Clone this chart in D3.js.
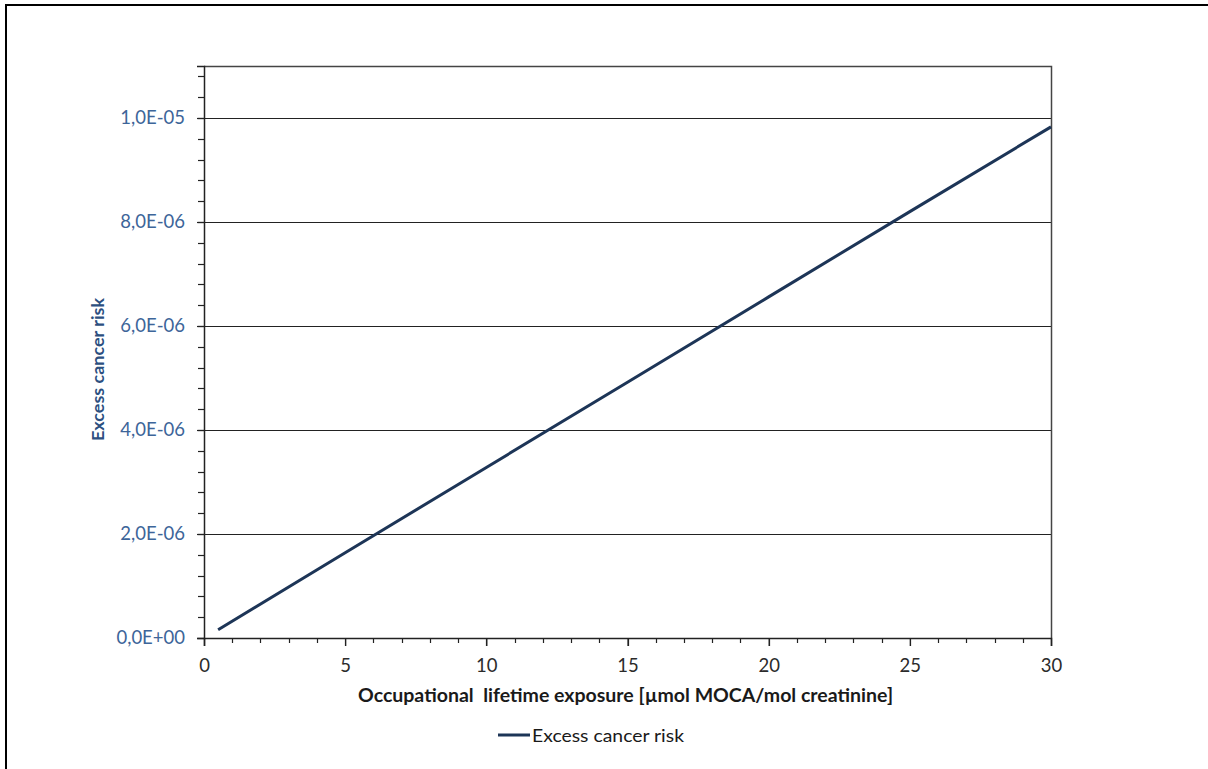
<!DOCTYPE html>
<html>
<head>
<meta charset="utf-8">
<script src="https://cdn.jsdelivr.net/npm/d3@7"></script>
<style>
  html, body { margin: 0; padding: 0; background: #fff; }
  svg { display: block; }
</style>
</head>
<body>
<svg id="chart" width="1208" height="769"></svg>
<script>
// Exposure (µmol MOCA/mol creatinine) and the resulting excess cancer risk
const exposure = [0.5, 5, 10, 15, 20, 25, 30];
const risk = [1.6e-7, 1.64e-6, 3.28e-6, 4.92e-6, 6.56e-6, 8.2e-6, 9.83e-6];
const xTicks = [0, 5, 10, 15, 20, 25, 30];
const yTicks = [0, 2e-6, 4e-6, 6e-6, 8e-6, 1e-5];
const yTickLabels = ["0,0E+00", "2,0E-06", "4,0E-06", "6,0E-06", "8,0E-06", "1,0E-05"];
const seriesName = "Excess cancer risk";
const xTitle = "Occupational  lifetime exposure [µmol MOCA/mol creatinine]";
const yTitle = "Excess cancer risk";

const svg = d3.select("#chart");
const font = "Lato, 'Open Sans', sans-serif";
const plot = { left: 204, right: 1051, top: 66, bottom: 638 };

const x = d3.scaleLinear().domain([0, 30]).range([plot.left, plot.right]);
const y = d3.scaleLinear().domain([0, 1.1e-5]).range([plot.bottom, plot.top]);

// outer frame
svg.append("rect")
  .attr("x", 6).attr("y", 5).attr("width", 1220).attr("height", 800)
  .attr("fill", "none").attr("stroke", "#000").attr("stroke-width", 2);

// horizontal gridlines at major ticks
svg.append("g").selectAll("line")
  .data(yTicks.filter(d => d > 0))
  .join("line")
  .attr("x1", plot.left).attr("x2", plot.right)
  .attr("y1", d => Math.round(y(d)) + 0.5).attr("y2", d => Math.round(y(d)) + 0.5)
  .attr("stroke", "#222").attr("stroke-width", 1.2);

// plot area border (top and right)
svg.append("path")
  .attr("d", `M${plot.left},${plot.top + 0.5}H${plot.right + 0.5}V${plot.bottom}`)
  .attr("fill", "none").attr("stroke", "#444").attr("stroke-width", 1.5);

// minor ticks
const yMinor = d3.range(0, 1.1e-5 + 1e-9, 4e-7);
svg.append("g").selectAll("line")
  .data(yMinor)
  .join("line")
  .attr("x1", plot.left - 6).attr("x2", plot.left)
  .attr("y1", d => Math.round(y(d)) + 0.5).attr("y2", d => Math.round(y(d)) + 0.5)
  .attr("stroke", "#222").attr("stroke-width", 1.2);

const xMinor = d3.range(0, 31, 1);
svg.append("g").selectAll("line")
  .data(xMinor)
  .join("line")
  .attr("x1", d => Math.round(x(d)) + 0.5).attr("x2", d => Math.round(x(d)) + 0.5)
  .attr("y1", plot.bottom).attr("y2", d => plot.bottom + (d % 5 === 0 ? 8 : 5))
  .attr("stroke", "#222").attr("stroke-width", 1.2);

// y axis
const yAxis = d3.axisLeft(y).tickValues(yTicks)
  .tickFormat((d, i) => yTickLabels[i]).tickSize(7).tickPadding(12);
const gy = svg.append("g").attr("transform", `translate(${plot.left},0)`).call(yAxis);
gy.select(".domain").attr("stroke", "#222").attr("stroke-width", 1.5);
gy.selectAll(".tick line").attr("stroke", "#222").attr("stroke-width", 1.2);
gy.selectAll(".tick text")
  .attr("font-family", font).attr("font-size", 18.5).attr("fill", "#3d6599");

// x axis
const xAxis = d3.axisBottom(x).tickValues(xTicks).tickSize(8).tickPadding(13);
const gx = svg.append("g").attr("transform", `translate(0,${plot.bottom})`).call(xAxis);
gx.select(".domain").attr("stroke", "#222").attr("stroke-width", 1.5);
gx.selectAll(".tick line").attr("stroke", "#222").attr("stroke-width", 1.2);
gx.selectAll(".tick text")
  .attr("font-family", font).attr("font-size", 18.5).attr("fill", "#2b2b2b");

// series line
const line = d3.line().x((d, i) => x(exposure[i])).y(d => y(d));
svg.append("path")
  .datum(risk)
  .attr("d", line)
  .attr("fill", "none").attr("stroke", "#1d3557").attr("stroke-width", 3);

// axis titles
svg.append("text")
  .attr("x", 358).attr("y", 702)
  .attr("textLength", 535).attr("lengthAdjust", "spacingAndGlyphs")
  .attr("font-family", font).attr("font-size", 18.5).attr("font-weight", "bold")
  .attr("fill", "#1a1a1a")
  .style("white-space", "pre")
  .text(xTitle);

svg.append("text")
  .attr("transform", "translate(104,441) rotate(-90)")
  .attr("textLength", 143).attr("lengthAdjust", "spacingAndGlyphs")
  .attr("font-family", font).attr("font-size", 17).attr("font-weight", "bold")
  .attr("fill", "#2c4f80")
  .text(yTitle);

// legend
const lg = svg.append("g").attr("transform", "translate(498,735)");
lg.append("line").attr("x1", 0).attr("x2", 32).attr("y1", 0).attr("y2", 0)
  .attr("stroke", "#1d3557").attr("stroke-width", 3);
lg.append("text").attr("x", 34).attr("y", 7)
  .attr("textLength", 152).attr("lengthAdjust", "spacingAndGlyphs")
  .attr("font-family", font).attr("font-size", 18).attr("fill", "#1a1a1a")
  .text(seriesName);
</script>
</body>
</html>
